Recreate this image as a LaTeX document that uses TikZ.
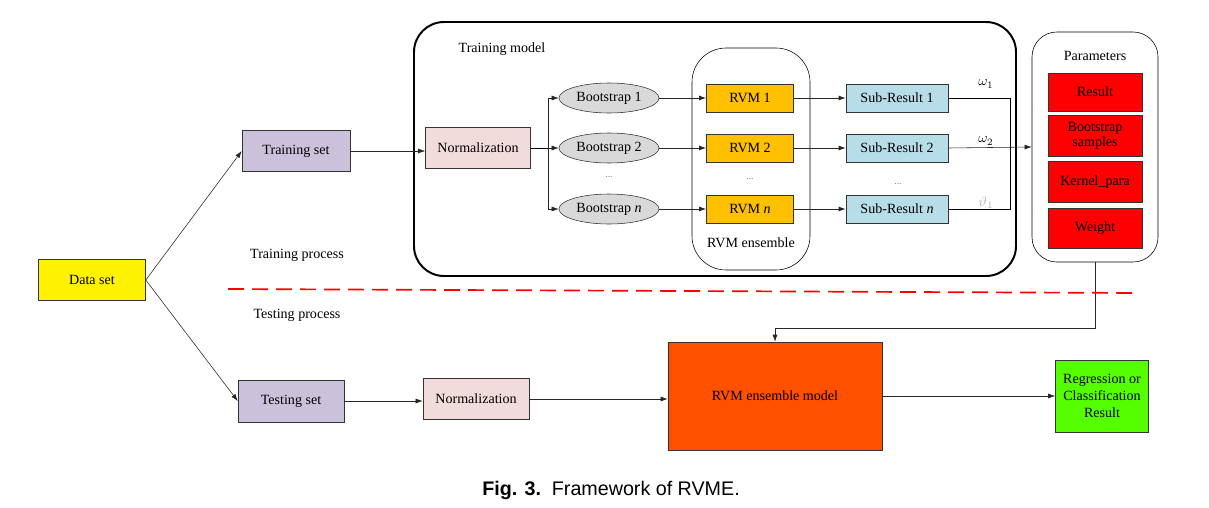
\documentclass[tikz,border=0pt]{standalone}
\usepackage{fontspec}
\setmainfont{Liberation Serif}
\newfontfamily\capfont{Liberation Sans}
\usetikzlibrary{shapes.geometric,arrows.meta}
\newlength\pxl
\setlength\pxl{0.025cm}
\definecolor{lav}{HTML}{CCC1DA}
\definecolor{pinkbox}{HTML}{F2DCDB}
\definecolor{bsgray}{HTML}{D9D9D9}
\definecolor{rvmorange}{HTML}{FFC000}
\definecolor{srblue}{HTML}{B7DEE8}
\definecolor{modelred}{HTML}{FF5000}
\definecolor{outgreen}{HTML}{55FF00}
\tikzset{
  box/.style={draw=black!80, rectangle, inner sep=1pt, align=center, font=\fontsize{10}{12}\selectfont},
  bsnode/.style={draw=black!80, ellipse, fill=bsgray, inner sep=0pt, minimum width=100*\pxl, minimum height=30*\pxl, font=\fontsize{10}{12}\selectfont},
  lbl/.style={font=\fontsize{10}{12}\selectfont},
  dotlbl/.style={text=black!50, font=\fontsize{7}{8}\selectfont},
  conn/.style={draw=black!85, -{Latex[length=5pt,width=3.5pt]}},
}
\begin{document}
\begin{tikzpicture}[x=0.025cm, y=-0.025cm]
  \useasboundingbox (0,0) rectangle (1209,507);

  \draw[line width=1.4pt, rounded corners=0.75cm] (414,22) rectangle (1016,276);
  \draw[rounded corners=0.85cm] (692,48) rectangle (810,270);
  \node[lbl] (tmlbl) at (502,49) {Training model};
  \node[lbl] (enslbl) at (751,243) {RVM ensemble};

  \node[box, fill=yellow, minimum width=107*\pxl, minimum height=41*\pxl] (data) at (92,280) {Data set};
  \node[box, fill=lav, minimum width=108*\pxl, minimum height=41*\pxl] (train) at (296,151) {Training set};
  \node[box, fill=lav, minimum width=106*\pxl, minimum height=42*\pxl] (test) at (291,401) {Testing set};
  \node[box, fill=pinkbox, minimum width=105*\pxl, minimum height=41*\pxl] (norma) at (478,148) {Normalization};
  \node[box, fill=pinkbox, minimum width=106*\pxl, minimum height=41*\pxl] (normb) at (476,399) {Normalization};

  \coordinate (br) at (548,148);
  \coordinate (jn) at (1010,148);
  \foreach \i/\y/\t in {1/98/1, 2/148/2, n/209/\textit{n}}{
    \node[bsnode] (bs\i) at (609,\y) {Bootstrap \t};
    \node[box, fill=rvmorange, minimum width=87*\pxl, minimum height=28*\pxl] (rvm\i) at (750,\y) {RVM \t};
    \node[box, fill=srblue, minimum width=102*\pxl, minimum height=28*\pxl] (sr\i) at (897,\y) {Sub-Result \t};
    \draw[conn] (br) |- (bs\i.west);
    \draw[conn, semithick] (bs\i.east) -- (rvm\i.west);
    \draw[conn, semithick] (rvm\i.east) -- (sr\i.west);
  }
  \foreach \x/\y in {609/177, 750/179, 898/184}{
    \node[dotlbl] at (\x,\y) {...};
  }

  \node[draw, rounded corners=0.62cm, minimum width=126*\pxl, minimum height=230*\pxl] (params) at (1095,147) {};
  \node[lbl] (plbl) at (1095,56) {Parameters};
  \foreach \n/\y/\h/\t in {res/92/38/Result, bss/136/41/Bootstrap\\samples, ker/182/41/Kernel\_para, wt/228/40/Weight}{
    \node[box, fill=red, minimum width=94*\pxl, minimum height=\h*\pxl, font=\fontsize{10}{11}\selectfont] (\n) at (1095,\y) {\t};
  }

  \node[lbl] (w1) at (986,84) {$\omega_1$};
  \node[lbl] (w2) at (986,141) {$\omega_2$};
  \node[lbl, text=black!30] (wn) at (986,203) {$\vartheta_{1}$};

  \node[box, fill=modelred, minimum width=214*\pxl, minimum height=108*\pxl] (model) at (775,396) {RVM ensemble model};
  \node[box, fill=outgreen, minimum width=93*\pxl, minimum height=72*\pxl] (out) at (1102,396) {Regression or\\Classification\\Result};

  \draw[conn] (data.east) -- (train.west);
  \draw[conn] (data.east) -- (test.west);
  \draw[conn] (train.east) -- (train.east -| norma.west);
  \draw (norma.east) -- (br);
  \draw (sr1.east) -| (jn);
  \draw (srn.east) -| (jn);
  \draw[conn] (sr2.east) -- (params.west);
  \draw[conn] (params.south) -- ++(0,66) -| (model.north);
  \draw[conn] (test.east) -- (test.east -| normb.west);
  \draw[conn] (normb.east) -- (normb.east -| model.west);
  \draw[conn] (model.east) -- (out.west);

  \draw[red, line width=1.2pt, dash pattern=on 0.4cm off 0.2cm] (228,289) -- (1140,293);
  \node[lbl] (trlbl) at (297,255) {Training process};
  \node[lbl] (telbl) at (297,315) {Testing process};

  \node (cap) at (611,490) {\capfont\fontsize{14}{16}\selectfont\textbf{Fig. 3.}\ \ Framework of RVME.};
\end{tikzpicture}
\end{document}
